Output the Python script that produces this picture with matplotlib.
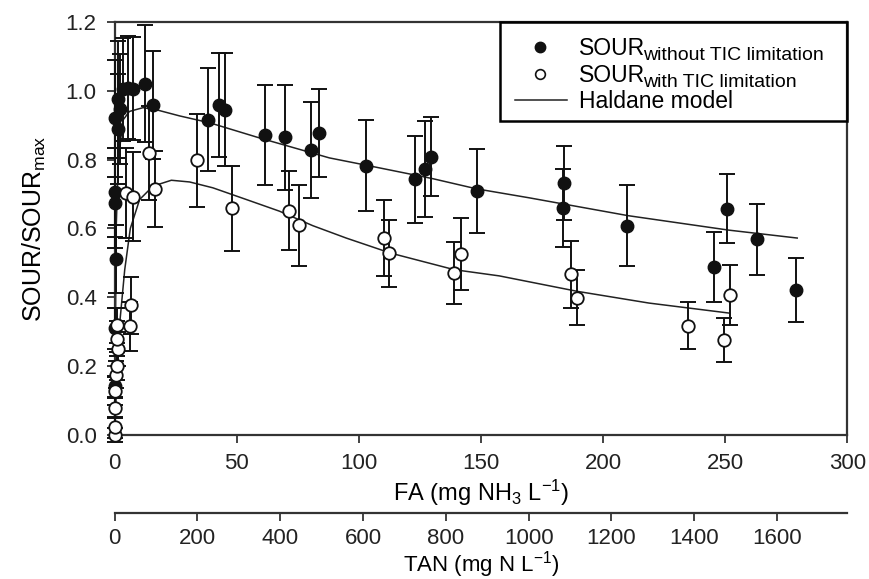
import numpy as np
import matplotlib.pyplot as plt
from matplotlib.font_manager import FontProperties
from matplotlib.patches import Rectangle

plt.rcParams['font.family'] = ['Liberation Sans', 'DejaVu Sans']
plt.rcParams['mathtext.default'] = 'regular'

# SOUR without TIC limitation (filled)
fa_no_tic = [0.3, 1.4, 2.0, 1.4, 3.4, 5.4, 7.5, 0.0, 0.0, 0.4, 0.0, 0.0, 12.3, 15.7,
             38.4, 42.9, 45.3, 61.6, 69.8, 80.4, 83.6, 102.9, 123.0, 127.1, 129.5,
             148.2, 183.8, 183.4, 209.9, 245.4, 250.8, 262.9, 279.1]
sour_no_tic = [0.920, 0.975, 0.946, 0.888, 1.004, 1.009, 1.006, 0.705, 0.674, 0.511, 0.310, 0.141, 1.021, 0.960,
               0.916, 0.959, 0.945, 0.872, 0.865, 0.828, 0.877, 0.782, 0.743, 0.772, 0.809,
               0.710, 0.732, 0.659, 0.608, 0.489, 0.657, 0.569, 0.420]
err_no_tic = [0.17, 0.17, 0.16, 0.16, 0.15, 0.15, 0.15, 0.13, 0.13, 0.10, 0.06, 0.03, 0.17, 0.157,
              0.15, 0.15, 0.165, 0.145, 0.153, 0.139, 0.127, 0.132, 0.127, 0.140, 0.116,
              0.122, 0.107, 0.114, 0.118, 0.102, 0.100, 0.103, 0.093]

# SOUR with TIC limitation (open)
fa_tic = [0.0, 0.3, 0.3, 0.3, 0.5, 0.8, 1.4, 0.8, 1.1, 6.8, 6.4, 4.8, 7.5, 13.9, 16.4,
          33.7, 48.0, 71.2, 75.4, 110.4, 112.5, 139.1, 142.0, 186.8, 189.5, 234.8, 249.4, 252.0]
sour_tic = [0.000, 0.022, 0.078, 0.128, 0.175, 0.200, 0.250, 0.280, 0.318, 0.376, 0.315, 0.703, 0.692, 0.819, 0.715,
            0.798, 0.658, 0.652, 0.609, 0.572, 0.528, 0.470, 0.526, 0.467, 0.399, 0.317, 0.276, 0.406]
err_tic = [0.02, 0.03, 0.03, 0.04, 0.04, 0.04, 0.05, 0.05, 0.05, 0.083, 0.07, 0.13, 0.13, 0.137, 0.11,
           0.135, 0.123, 0.114, 0.117, 0.11, 0.097, 0.09, 0.105, 0.097, 0.081, 0.068, 0.063, 0.088]

# Haldane model curves
fa_model_1 = [0, 0.6, 1.5, 3.4, 6.0, 11.6, 17.0, 26.6, 38.9, 59.3, 87.9, 103.5, 130, 148.2, 169.7, 210.3, 251.5, 279.5]
sour_model_1 = [0, 0.60, 0.80, 0.915, 0.940, 0.951, 0.945, 0.927, 0.907, 0.863, 0.805, 0.783, 0.745, 0.715, 0.689, 0.637, 0.595, 0.572]
fa_model_2 = [0, 0.8, 2.0, 4.1, 6.4, 10.2, 15.7, 23.2, 30.7, 40.2, 53.9, 67.5, 81.1, 94.8, 113.1, 139.1, 157.5, 189.5, 218.8, 251.5]
sour_model_2 = [0, 0.15, 0.32, 0.48, 0.60, 0.684, 0.723, 0.740, 0.735, 0.718, 0.684, 0.650, 0.608, 0.572, 0.528, 0.480, 0.462, 0.417, 0.383, 0.354]

fa_to_tan = 5.9
legend_subs = ['without TIC limitation', 'with TIC limitation', '']
legend_main = ['SOUR', 'SOUR', 'Haldane model']

fig = plt.figure(figsize=(8.69, 5.79), dpi=100)
ax = fig.add_axes([0.132, 0.249, 0.843, 0.713])

ax.plot(fa_model_1, sour_model_1, color='#222222', lw=1.1, zorder=2)
ax.plot(fa_model_2, sour_model_2, color='#222222', lw=1.1, zorder=2)

ax.errorbar(fa_no_tic, sour_no_tic, yerr=err_no_tic, fmt='none', ecolor='#111111',
            elinewidth=1.4, capsize=6, capthick=1.4, zorder=3, clip_on=False)
ax.errorbar(fa_tic, sour_tic, yerr=err_tic, fmt='none', ecolor='#111111',
            elinewidth=1.4, capsize=6, capthick=1.4, zorder=3, clip_on=False)
ax.plot(fa_no_tic, sour_no_tic, 'o', ms=9, color='#111111', zorder=4, clip_on=False)
ax.plot(fa_tic, sour_tic, 'o', ms=9, mfc='white', mec='#111111', mew=1.3, zorder=5, clip_on=False)

ax.set_xlim(0, 300)
ax.set_ylim(0, 1.2)
ax.set_xticks(np.arange(0, 301, 50))
ax.set_yticks(np.arange(0, 1.21, 0.2))
ax.set_yticklabels(['%.1f' % v for v in np.arange(0, 1.21, 0.2)])
ax.tick_params(direction='out', length=6, width=1.2, labelsize=16, pad=7, colors='#222222')
for s in ax.spines.values():
    s.set_linewidth(1.6)
    s.set_color('#333333')
ax.set_xlabel(r'FA (mg NH$_3$ L$^{-1}$)', fontsize=17, labelpad=3)
ax.set_ylabel(r'SOUR/SOUR$_{max}$', fontsize=18, labelpad=13)

sec = ax.secondary_xaxis(-0.189, functions=(lambda x: x * fa_to_tan, lambda t: t / fa_to_tan))
sec.set_xticks(np.arange(0, 1601, 200))
sec.tick_params(direction='out', length=6, width=1.2, labelsize=16, pad=5, colors='#222222')
sec.spines['bottom'].set_linewidth(1.6)
sec.spines['bottom'].set_color('#333333')
sec.set_xlabel(r'TAN (mg N L$^{-1}$)', fontsize=16, labelpad=0)

# legend drawn by hand so the subscripts can be larger than mathtext allows
leg_fs = 16.5
sub_fs = 14
renderer = fig.canvas.get_renderer()
fp_main = FontProperties(family=['Liberation Sans'], size=leg_fs)
w_sour_pt = renderer.get_text_width_height_descent('SOUR', fp_main, ismath=False)[0] * 72.0 / fig.dpi

ax.add_patch(Rectangle((0.526, 0.761), 0.474, 0.239, transform=ax.transAxes, fill=False,
                       edgecolor='black', lw=1.8, zorder=6, clip_on=False))
row_y = [0.9396, 0.8743, 0.8115]
base_dy = 0.019
ax.plot([0.5805], [row_y[0]], 'o', ms=7.5, color='#111111', transform=ax.transAxes, zorder=7)
ax.plot([0.5805], [row_y[1]], 'o', ms=7, mfc='white', mec='#111111', mew=1.2,
        transform=ax.transAxes, zorder=7)
ax.plot([0.5466, 0.6176], [row_y[2], row_y[2]], color='#222222', lw=1.1, transform=ax.transAxes, zorder=7)
for y, main, sub in zip(row_y, legend_main, legend_subs):
    ax.text(0.6338, y - base_dy, main, fontsize=leg_fs, transform=ax.transAxes,
            va='baseline', ha='left', zorder=7)
    if sub:
        ax.annotate(sub, xy=(0.6338, y - base_dy), xycoords='axes fraction',
                    xytext=(w_sour_pt - 1.5, -3.5), textcoords='offset points',
                    fontsize=sub_fs, va='baseline', ha='left', zorder=7)

fig.savefig('out.png', dpi=100)
